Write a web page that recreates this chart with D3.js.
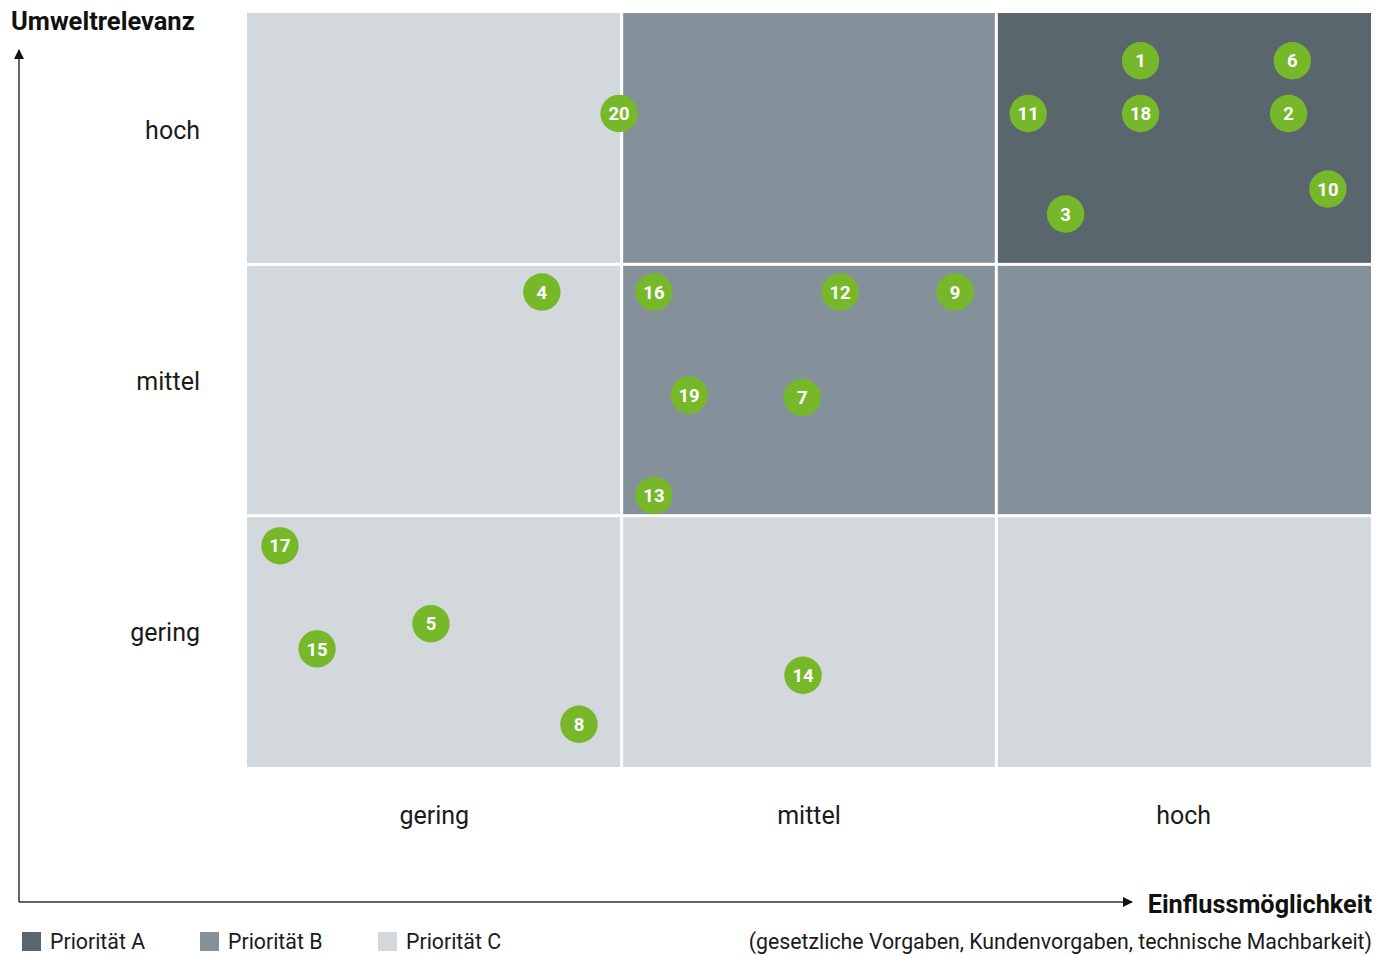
<!DOCTYPE html>
<html>
<head>
<meta charset="utf-8">
<script src="https://cdn.jsdelivr.net/npm/d3@7"></script>
<style>
  body { margin: 0; background: #fff; }
  svg { display: block; font-family: Roboto, "Noto Sans", sans-serif; }
</style>
</head>
<body>
<svg id="chart" width="1376" height="955"></svg>
<script>
// levels on both axes
var levels = ["gering", "mittel", "hoch"];

// priority of each cell, rows from top (hoch) to bottom (gering), cols gering..hoch
var cellPriority = [
  ["C", "B", "A"],
  ["C", "B", "B"],
  ["C", "C", "C"]
];

var priorities = ["A", "B", "C"];
var priorityLabels = ["Priorität A", "Priorität B", "Priorität C"];
var priorityColors = ["#59666e", "#84919a", "#d2d8dc"];

// topics: id, influence (x, 0..3), relevance (y, 0..3)
var topicIds = [1, 6, 11, 18, 2, 10, 3, 20, 4, 16, 12, 9, 19, 7, 13, 17, 5, 15, 8, 14];
var topicX   = [2.385, 2.79, 2.085, 2.385, 2.78, 2.885, 2.185, 0.993, 0.787, 1.086, 1.583, 1.89, 1.18, 1.482, 1.086, 0.088, 0.491, 0.187, 0.886, 1.484];
var topicY   = [2.81, 2.81, 2.60, 2.60, 2.60, 2.30, 2.20, 2.60, 1.89, 1.89, 1.89, 1.89, 1.48, 1.47, 1.08, 0.88, 0.57, 0.47, 0.17, 0.365];

var svg = d3.select("#chart");

var plotL = 247, plotR = 1371, plotT = 13, plotB = 767;
var x = d3.scaleLinear().domain([0, 3]).range([plotL, plotR]);
var y = d3.scaleLinear().domain([0, 3]).range([plotB, plotT]);
var color = d3.scaleOrdinal().domain(priorities).range(priorityColors);
var gap = 1.5;

// cells
var cells = [];
cellPriority.forEach(function(row, r) {
  row.forEach(function(p, c) {
    cells.push({row: 2 - r, col: c, p: p});
  });
});

svg.append("g").selectAll("rect")
  .data(cells)
  .enter().append("rect")
    .attr("x", function(d) { return x(d.col) + (d.col > 0 ? gap : 0); })
    .attr("y", function(d) { return y(d.row + 1) + (d.row < 2 ? gap : 0); })
    .attr("width", function(d) { return x(d.col + 1) - x(d.col) - (d.col > 0 ? gap : 0) - (d.col < 2 ? gap : 0); })
    .attr("height", function(d) { return y(d.row) - y(d.row + 1) - (d.row < 2 ? gap : 0) - (d.row > 0 ? gap : 0); })
    .attr("fill", function(d) { return color(d.p); });

// row labels (baseline sits at row middle)
svg.append("g").selectAll("text")
  .data(levels)
  .enter().append("text")
    .attr("x", 200)
    .attr("y", function(d, i) { return y(i + 0.5); })
    .attr("text-anchor", "end")
    .attr("font-size", 25)
    .attr("fill", "#1a1a1a")
    .text(function(d) { return d; });

// column labels
svg.append("g").selectAll("text")
  .data(levels)
  .enter().append("text")
    .attr("x", function(d, i) { return x(i + 0.5); })
    .attr("y", 815)
    .attr("dy", "0.35em")
    .attr("text-anchor", "middle")
    .attr("font-size", 25)
    .attr("fill", "#1a1a1a")
    .text(function(d) { return d; });

// axis arrows
var defs = svg.append("defs");
defs.append("marker")
  .attr("id", "arrow")
  .attr("viewBox", "0 0 10 10")
  .attr("refX", 9).attr("refY", 5)
  .attr("markerWidth", 14).attr("markerHeight", 10)
  .attr("markerUnits", "userSpaceOnUse")
  .attr("orient", "auto")
  .append("path").attr("d", "M0,0L10,5L0,10Z").attr("fill", "#111");

svg.append("path")
  .attr("d", "M19,902L19,50")
  .attr("stroke", "#333").attr("stroke-width", 1.5).attr("fill", "none")
  .attr("marker-end", "url(#arrow)");
svg.append("path")
  .attr("d", "M19,902L1132,902")
  .attr("stroke", "#333").attr("stroke-width", 1.5).attr("fill", "none")
  .attr("marker-end", "url(#arrow)");

svg.append("text")
  .attr("x", 11).attr("y", 30)
  .attr("font-size", 25.5).attr("font-weight", "bold").attr("fill", "#111")
  .text("Umweltrelevanz");

svg.append("text")
  .attr("x", 1372).attr("y", 913)
  .attr("text-anchor", "end")
  .attr("font-size", 25.3).attr("font-weight", "bold").attr("fill", "#111")
  .text("Einflussmöglichkeit");

svg.append("text")
  .attr("x", 1372).attr("y", 949)
  .attr("text-anchor", "end")
  .attr("font-size", 21.3).attr("fill", "#1a1a1a")
  .text("(gesetzliche Vorgaben, Kundenvorgaben, technische Machbarkeit)");

// legend
var legend = svg.append("g").selectAll("g")
  .data(priorities)
  .enter().append("g")
    .attr("transform", function(d, i) { return "translate(" + (22 + i * 178) + ",932)"; });
legend.append("rect")
  .attr("width", 19).attr("height", 19)
  .attr("fill", function(d) { return color(d); });
legend.append("text")
  .attr("x", 28).attr("y", 10)
  .attr("dy", "0.35em")
  .attr("font-size", 21.3).attr("fill", "#1a1a1a")
  .text(function(d, i) { return priorityLabels[i]; });

// topic bubbles
var topics = topicIds.map(function(id, i) { return {id: id, x: topicX[i], y: topicY[i]}; });
var bubble = svg.append("g").selectAll("g")
  .data(topics)
  .enter().append("g")
    .attr("transform", function(d) { return "translate(" + x(d.x) + "," + y(d.y) + ")"; });
bubble.append("circle")
  .attr("r", 18.7)
  .attr("fill", "#77b82a");
bubble.append("text")
  .attr("text-anchor", "middle")
  .attr("dy", "0.36em")
  .attr("font-size", 18.5)
  .attr("font-weight", "bold")
  .attr("fill", "#fff")
  .text(function(d) { return d.id; });
</script>
</body>
</html>
